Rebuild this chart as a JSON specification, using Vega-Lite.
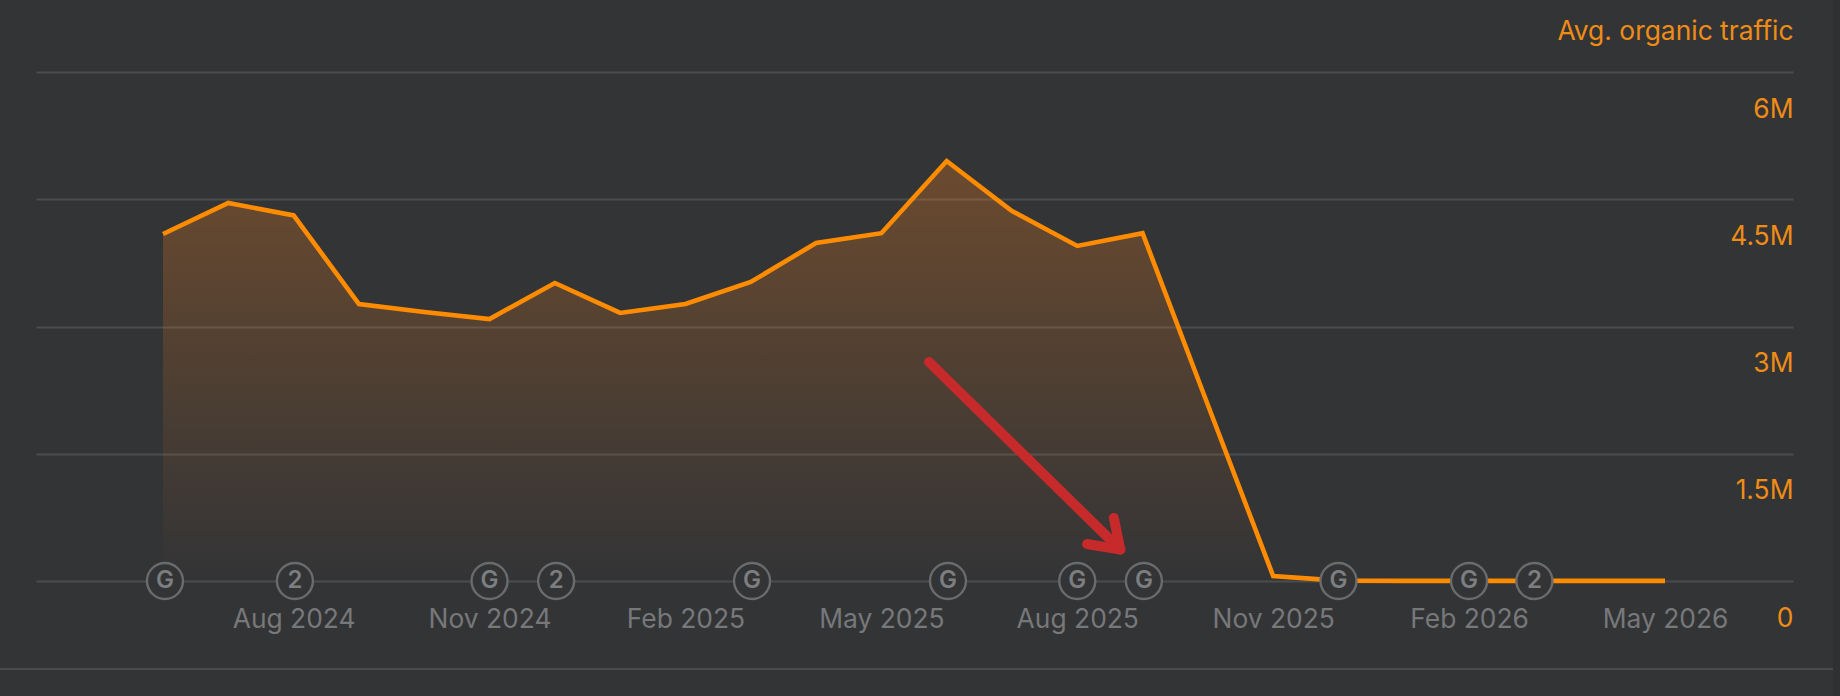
{
  "$schema": "https://vega.github.io/schema/vega-lite/v6.json",
  "description": "Avg. organic traffic by month",
  "width": 1757,
  "height": 509,
  "autosize": "none",
  "padding": {"left": 36, "top": 72, "right": 47, "bottom": 115},
  "background": "#333436",
  "config": {"font": "Inter", "view": {"stroke": null}},
  "datasets": {
    "traffic": [
      {"month": "Jun 2024", "idx": 0, "traffic": 4090000},
      {"month": "Jul 2024", "idx": 1, "traffic": 4456000},
      {"month": "Aug 2024", "idx": 2, "traffic": 4310000},
      {"month": "Sep 2024", "idx": 3, "traffic": 3265000},
      {"month": "Oct 2024", "idx": 4, "traffic": 3171000},
      {"month": "Nov 2024", "idx": 5, "traffic": 3088000},
      {"month": "Dec 2024", "idx": 6, "traffic": 3513000},
      {"month": "Jan 2025", "idx": 7, "traffic": 3160000},
      {"month": "Feb 2025", "idx": 8, "traffic": 3265000},
      {"month": "Mar 2025", "idx": 9, "traffic": 3525000},
      {"month": "Apr 2025", "idx": 10, "traffic": 3984000},
      {"month": "May 2025", "idx": 11, "traffic": 4100000},
      {"month": "Jun 2025", "idx": 12, "traffic": 4951000},
      {"month": "Jul 2025", "idx": 13, "traffic": 4362000},
      {"month": "Aug 2025", "idx": 14, "traffic": 3950000},
      {"month": "Sep 2025", "idx": 15, "traffic": 4100000},
      {"month": "Oct 2025", "idx": 16, "traffic": 2075000},
      {"month": "Nov 2025", "idx": 17, "traffic": 59000},
      {"month": "Dec 2025", "idx": 18, "traffic": 5000},
      {"month": "Jan 2026", "idx": 19, "traffic": 1000},
      {"month": "Feb 2026", "idx": 20, "traffic": 1000},
      {"month": "Mar 2026", "idx": 21, "traffic": 1000},
      {"month": "Apr 2026", "idx": 22, "traffic": 1000},
      {"month": "May 2026", "idx": 23, "traffic": 1000}
    ],
    "updates": [
      {"idx": 0.03, "level": 0, "badge": "G"},
      {"idx": 2.02, "level": 0, "badge": "2"},
      {"idx": 5, "level": 0, "badge": "G"},
      {"idx": 6.02, "level": 0, "badge": "2"},
      {"idx": 9.02, "level": 0, "badge": "G"},
      {"idx": 12.02, "level": 0, "badge": "G"},
      {"idx": 14, "level": 0, "badge": "G"},
      {"idx": 15.02, "level": 0, "badge": "G"},
      {"idx": 18, "level": 0, "badge": "G"},
      {"idx": 20, "level": 0, "badge": "G"},
      {"idx": 21, "level": 0, "badge": "2"}
    ],
    "arrow": [
      {"part": "shaft", "seq": 0, "idx": 11.73, "level": 2582000},
      {"part": "shaft", "seq": 1, "idx": 14.66, "level": 370000},
      {"part": "head", "seq": 0, "idx": 14.15, "level": 436000},
      {"part": "head", "seq": 1, "idx": 14.66, "level": 370000},
      {"part": "head", "seq": 2, "idx": 14.56, "level": 743000}
    ],
    "footer": [{"start": -2.496, "end": 25.57, "level": -1037000}],
    "strip": [{"start": 25.57, "end": 25.7, "top": 6860000, "bottom": -1360000}]
  },
  "layer": [
    {
      "data": {"name": "strip"},
      "mark": {"type": "rect", "color": "#2f3032"},
      "encoding": {
        "x": {"field": "start", "type": "quantitative"},
        "x2": {"field": "end"},
        "y": {"field": "top", "type": "quantitative"},
        "y2": {"field": "bottom"}
      }
    },
    {
      "data": {"name": "footer"},
      "mark": {"type": "rule", "color": "#4b4c4e", "strokeWidth": 2},
      "encoding": {
        "x": {"field": "start", "type": "quantitative"},
        "x2": {"field": "end"},
        "y": {"field": "level", "type": "quantitative"}
      }
    },
    {
      "data": {"name": "traffic"},
      "mark": {
        "type": "area",
        "color": {
          "gradient": "linear",
          "x1": 0, "y1": 0, "x2": 0, "y2": 1,
          "stops": [
            {"offset": 0, "color": "rgba(255,133,28,0.28)"},
            {"offset": 1, "color": "rgba(255,133,28,0)"}
          ]
        }
      },
      "encoding": {
        "x": {
          "field": "idx",
          "type": "quantitative",
          "title": null,
          "scale": {"domain": [-1.945, 24.96], "nice": false, "zero": false},
          "axis": {
            "orient": "bottom",
            "values": [2, 5, 8, 11, 14, 17, 20, 23],
            "labelExpr": "timeFormat(datetime(2024, 5 + datum.value, 1), '%b %Y')",
            "domain": false,
            "ticks": false,
            "grid": false,
            "labelFontSize": 26.4,
            "labelColor": "#77787a",
            "labelBaseline": "middle",
            "labelPadding": 38,
            "labelOverlap": false,
            "labelFlush": false,
            "labelBound": false
          }
        },
        "y": {
          "field": "traffic",
          "type": "quantitative",
          "title": "Avg. organic traffic",
          "scale": {"domain": [0, 6000000], "nice": false},
          "axis": {
            "orient": "right",
            "values": [0, 1500000, 3000000, 4500000, 6000000],
            "labelExpr": "datum.value == 0 ? '0' : (datum.value / 1000000) + 'M'",
            "domain": false,
            "ticks": false,
            "grid": true,
            "gridColor": "#4b4c4e",
            "gridWidth": 2,
            "labelFontSize": 26.4,
            "labelColor": "#f08c15",
            "labelAlign": "right",
            "labelBaseline": "middle",
            "labelPadding": 0,
            "labelOffset": 37,
            "labelOverlap": false,
            "labelFlush": false,
            "labelBound": false,
            "titleFontSize": 26.4,
            "titleFontWeight": "normal",
            "titleColor": "#f08c15",
            "titleAngle": 0,
            "titleAlign": "right",
            "titleBaseline": "middle",
            "titleX": 0,
            "titleY": -41
          }
        }
      }
    },
    {
      "data": {"name": "traffic"},
      "mark": {"type": "line", "color": "#ff8c00", "strokeWidth": 4.6, "strokeJoin": "miter"},
      "encoding": {
        "x": {"field": "idx", "type": "quantitative"},
        "y": {"field": "traffic", "type": "quantitative"}
      }
    },
    {
      "data": {"name": "updates"},
      "mark": {"type": "point", "shape": "circle", "filled": false, "fill": "#333436", "fillOpacity": 1, "stroke": "#6a6b6d", "strokeWidth": 2.4, "opacity": 1, "size": 1296},
      "encoding": {
        "x": {"field": "idx", "type": "quantitative"},
        "y": {"field": "level", "type": "quantitative"}
      }
    },
    {
      "data": {"name": "updates"},
      "mark": {"type": "text", "fontSize": 24, "fontWeight": 600, "color": "#7d7e80", "align": "center", "baseline": "middle"},
      "encoding": {
        "x": {"field": "idx", "type": "quantitative"},
        "y": {"field": "level", "type": "quantitative"},
        "text": {"field": "badge"}
      }
    },
    {
      "data": {"name": "arrow"},
      "mark": {"type": "line", "color": "#c62a2a", "strokeWidth": 10, "strokeCap": "round", "strokeJoin": "round"},
      "encoding": {
        "x": {"field": "idx", "type": "quantitative"},
        "y": {"field": "level", "type": "quantitative"},
        "detail": {"field": "part"},
        "order": {"field": "seq"}
      }
    }
  ]
}
